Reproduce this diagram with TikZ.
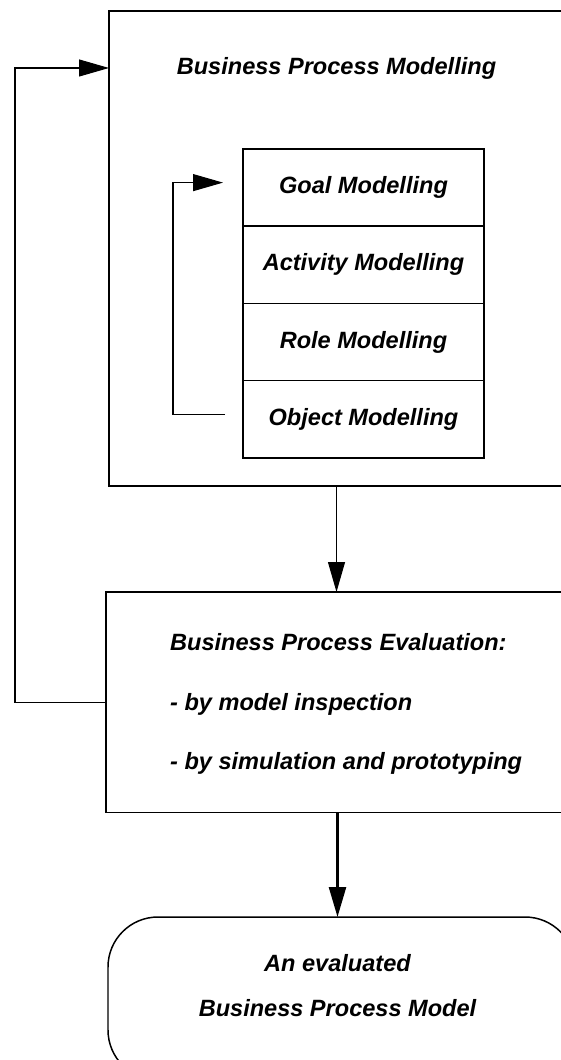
\documentclass[tikz,border=0pt]{standalone}
\usepackage{fontspec}
\setmainfont{Liberation Sans}
\usetikzlibrary{arrows.meta}
\usetikzlibrary{positioning}

\begin{document}
\begin{tikzpicture}
	[font=\fontsize{13.4}{16}\selectfont\bfseries\itshape,
	 box/.style={draw, line width=0.85pt, inner sep=0pt, outer sep=0pt},
	 layer/.style={box, minimum width=4.82cm, minimum height=1.545cm},
	 flow/.style={-{Triangle[length=6mm,width=3.4mm]}, line width=0.6pt}]
	\useasboundingbox (0,0) rectangle (11.2,-21.2);

	%Modelling
	\node[box, minimum width=9.32cm, minimum height=9.5cm] (bpm) at (6.84,-4.97) {};
	\node (bpmtitle) at (6.73,-1.36) {Business Process Modelling};
	\node[layer] (goal) at (7.27,-3.7525) {Goal Modelling};
	\node[layer, below=0pt of goal] (activity) {Activity Modelling};
	\node[layer, below=0pt of activity] (role) {Role Modelling};
	\node[layer, below=0pt of role] (object) {Object Modelling};

	%Evaluation
	\node[box, minimum width=9.38cm, minimum height=4.41cm] (eval) at (6.81,-14.045) {};
	\node[anchor=west, align=left] (evaltxt) at (3.28,-14.08)
		{Business Process Evaluation:\\[0.62cm]- by model inspection\\[0.62cm]- by simulation and prototyping};

	%Result
	\node[box, rounded corners=1cm, minimum width=9.34cm, minimum height=3.26cm] (result) at (6.83,-19.97) {};
	\node[align=center] (resulttxt) at (6.75,-19.71) {An evaluated\\[0.34cm]Business Process Model};

	%arrows
	\draw[flow] (bpmtitle |- bpm.south) -- (bpmtitle |- eval.north);
	\draw[flow, line width=1.4pt] (resulttxt |- eval.south) -- (resulttxt |- result.north);

	%feedback
	\coordinate (goalin) at ([xshift=-0.4cm,yshift=0.1cm]goal.west);
	\coordinate (objout) at ([xshift=-0.36cm,yshift=0.1cm]object.west);
	\draw[flow] (objout) -- ++(-1.04,0) |- (goalin);
	\draw[flow] (eval.west) -- ++(-1.82,0) |- (bpmtitle -| bpm.west);
\end{tikzpicture}
\end{document}
